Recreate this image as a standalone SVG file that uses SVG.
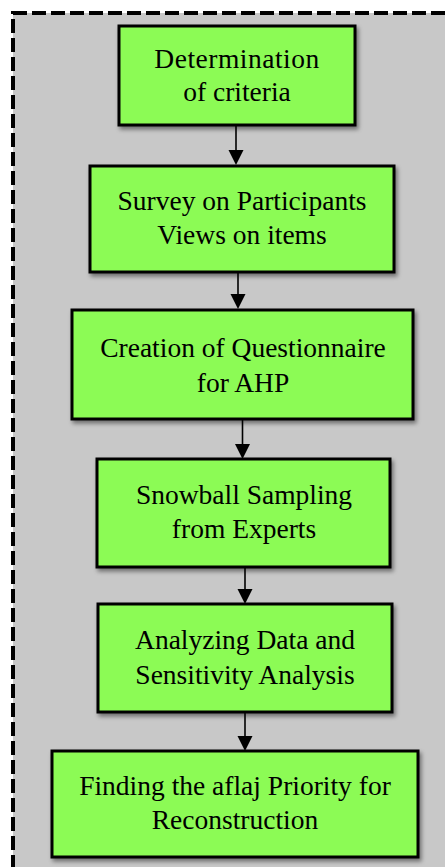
<svg xmlns="http://www.w3.org/2000/svg" width="445" height="867" viewBox="0 0 445 867">
<defs>
<filter id="sh" x="-10%" y="-10%" width="125%" height="130%">
<feDropShadow dx="2" dy="3" stdDeviation="2" flood-color="#000" flood-opacity="0.45"/>
</filter>
<marker id="ah" viewBox="0 0 15 15" refX="7.5" refY="15" markerWidth="15" markerHeight="15" markerUnits="userSpaceOnUse" orient="auto-start-reverse">
<path d="M0,0 L15,0 L7.5,15 Z" fill="#000"/>
</marker>
</defs>
<style>
.box{fill:#8cfb54;stroke:#000;stroke-width:3;filter:url(#sh)}
.t{font-family:"Liberation Serif","Times New Roman",serif;font-size:27.5px;fill:#000;text-anchor:middle}
.c{stroke:#000;stroke-width:1.6;fill:none}
</style>
<rect x="0" y="0" width="445" height="867" fill="#fff"/>
<rect x="13" y="13" width="460" height="880" fill="#c8c8c8" stroke="#000" stroke-width="4" stroke-dasharray="14,5"/>
<g id="connectors">
<line class="c" x1="236" y1="125" x2="236" y2="150"/>
<path d="M228.5,150 L243.5,150 L236,165 Z"/>
<line class="c" x1="238" y1="272" x2="238" y2="294"/>
<path d="M230.5,294 L245.5,294 L238,309 Z"/>
<line class="c" x1="242.5" y1="420" x2="242.5" y2="444"/>
<path d="M235,444 L250,444 L242.5,459 Z"/>
<line class="c" x1="245" y1="567" x2="245" y2="589"/>
<path d="M237.5,589 L252.5,589 L245,604 Z"/>
<line class="c" x1="245" y1="712" x2="245" y2="736"/>
<path d="M237.5,736 L252.5,736 L245,751 Z"/>
</g>
<g id="n1">
<rect class="box" x="119" y="26" width="236" height="99"/>
<text class="t" x="237" y="68" letter-spacing="0.5">Determination</text>
<text class="t" x="237" y="101">of criteria</text>
</g>
<g id="n2">
<rect class="box" x="90" y="166" width="304" height="106"/>
<text class="t" x="242" y="210">Survey on Participants</text>
<text class="t" x="242" y="244">Views on items</text>
</g>
<g id="n3">
<rect class="box" x="72" y="310" width="341" height="109"/>
<text class="t" x="243" y="357">Creation of Questionnaire</text>
<text class="t" x="243" y="392">for AHP</text>
</g>
<g id="n4">
<rect class="box" x="97" y="459" width="293" height="108"/>
<text class="t" x="244" y="504">Snowball Sampling</text>
<text class="t" x="244" y="538">from Experts</text>
</g>
<g id="n5">
<rect class="box" x="98" y="604" width="294" height="108"/>
<text class="t" x="245" y="649">Analyzing Data and</text>
<text class="t" x="245" y="684">Sensitivity Analysis</text>
</g>
<g id="n6">
<rect class="box" x="52" y="751" width="366" height="106"/>
<text class="t" x="235" y="795">Finding the aflaj Priority for</text>
<text class="t" x="235" y="829">Reconstruction</text>
</g>
</svg>
